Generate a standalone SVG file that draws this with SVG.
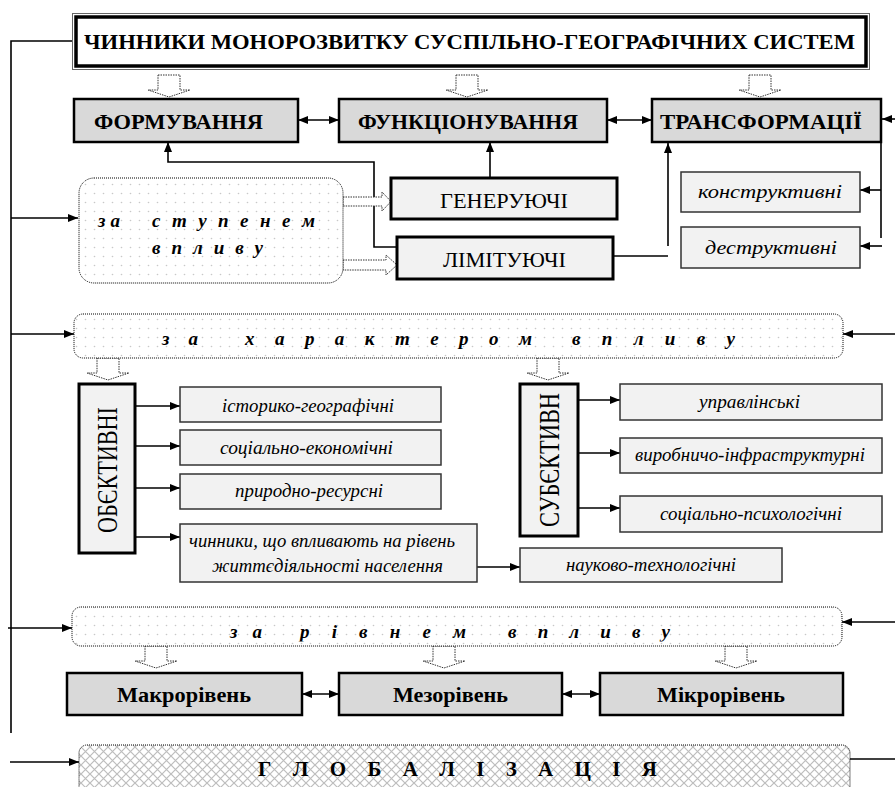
<svg xmlns="http://www.w3.org/2000/svg" width="895" height="787" viewBox="0 0 895 787" font-family="'Liberation Serif', 'Times New Roman', serif">
<defs>
<style>
text{font-family:'Liberation Serif','Times New Roman',serif;fill:#000}
.b{font-weight:bold}
.i{font-style:italic}
.main{fill:#d9d9d9;stroke:#000;stroke-width:2.5}
.sub{fill:#f2f2f2;stroke:#000;stroke-width:3}
.sm{fill:#f2f2f2;stroke:#333;stroke-width:1.5}
.dotbox{fill:url(#dots);stroke:#000;stroke-width:1;stroke-dasharray:1 1}
.hatchbox{fill:url(#hatch);stroke:#000;stroke-width:1;stroke-dasharray:1 1}
.blk{fill:#fff;stroke:#333;stroke-width:1;stroke-dasharray:1.5 1}
.ln{fill:none;stroke:#000;stroke-width:1.6}
.ar{marker-end:url(#ah)}
.da{marker-start:url(#ah);marker-end:url(#ah)}
.sp{font-size:19px;font-weight:bold;font-style:italic}
.it{font-size:18px;font-style:italic}
</style>
<pattern id="dots" width="9" height="9" patternUnits="userSpaceOnUse">
<rect width="9" height="9" fill="#fff"/>
<circle cx="4.5" cy="4.5" r="0.8" fill="#c8c8c8"/>
</pattern>
<pattern id="hatch" width="9" height="9" patternUnits="userSpaceOnUse">
<rect width="9" height="9" fill="#fff"/>
<path d="M0,0 L9,9 M9,0 L0,9" stroke="#bdbdbd" stroke-width="1.2"/>
</pattern>
<marker id="ah" viewBox="0 0 10 10" refX="10" refY="5" markerWidth="10" markerHeight="10" markerUnits="userSpaceOnUse" orient="auto-start-reverse">
<path d="M0,1 L10,5 L0,9 z" fill="#000"/>
</marker>
<path id="dn" d="M-11,0 H11 V15 H21 L0,22 L-21,15 H-11 Z"/>
<clipPath id="clipRiv"><rect x="60" y="600" width="800" height="41.5"/></clipPath>
</defs>

<g id="connectors">
<path class="ln" d="M72,41 H11 V733"/>
<path class="ln ar" d="M11,218 H78"/>
<path class="ln ar" d="M11,334 H74"/>
<path class="ln ar" d="M8,628 H72"/>
<path class="ln ar" d="M10,762 H79"/>
<path class="ln ar" d="M895,334 H843"/>
<path class="ln ar" d="M895,622 H842"/>
<path class="ln" d="M850,759 H895"/>
<path class="ln ar" d="M895,119 H882"/>
<path class="ln da" d="M298,120 H339"/>
<path class="ln da" d="M607,120 H652"/>
<path class="ln ar" d="M397,247 H374 V162 H168 V142"/>
<path class="ln ar" d="M490,178 V142"/>
<path class="ln" d="M613,256 H668"/>
<path class="ln ar" d="M668,246 V143"/>
<path class="ln" d="M881,143 V238"/>
<path class="ln ar" d="M881,190 H860"/>
<path class="ln ar" d="M882,246 H860"/>
<path class="ln ar" d="M135,406 H180"/>
<path class="ln ar" d="M135,446 H180"/>
<path class="ln ar" d="M135,488 H180"/>
<path class="ln ar" d="M135,537 H180"/>
<path class="ln ar" d="M477,567 H520"/>
<path class="ln ar" d="M578,400 H620"/>
<path class="ln ar" d="M578,453 H620"/>
<path class="ln ar" d="M578,508 H620"/>
<path class="ln da" d="M302,694 H339"/>
<path class="ln da" d="M562,694 H600"/>
<use href="#dn" class="blk" transform="translate(169,75)"/>
<use href="#dn" class="blk" transform="translate(467,75)"/>
<use href="#dn" class="blk" transform="translate(760,75)"/>
<use href="#dn" class="blk" transform="translate(108,358)"/>
<use href="#dn" class="blk" transform="translate(548,358)"/>
<use href="#dn" class="blk" transform="translate(156,646)"/>
<use href="#dn" class="blk" transform="translate(444,646)"/>
<use href="#dn" class="blk" transform="translate(736,646)"/>
<path class="blk" d="M343,197 H382 V192 L391,201.5 L382,211 V206 H343 Z"/>
<path class="blk" d="M343,260 H386 V255 L397,265 L386,275 V270 H343 Z"/>
</g>

<g id="title">
<rect x="72.5" y="13.5" width="797" height="56" fill="none" stroke="#666" stroke-width="1"/>
<rect x="76" y="17" width="790" height="49" fill="#fff" stroke="#000" stroke-width="3.5"/>
<text class="b" x="84" y="49" font-size="22" textLength="771" lengthAdjust="spacingAndGlyphs">ЧИННИКИ МОНОРОЗВИТКУ СУСПІЛЬНО-ГЕОГРАФІЧНИХ СИСТЕМ</text>
</g>

<g id="formuvannia">
<rect class="main" x="74" y="99" width="224" height="43"/>
<text class="b" x="94" y="129" font-size="20" textLength="169" lengthAdjust="spacingAndGlyphs">ФОРМУВАННЯ</text>
</g>
<g id="funktsionuvannia">
<rect class="main" x="339" y="99" width="268" height="43"/>
<text class="b" x="358" y="129" font-size="20" textLength="220" lengthAdjust="spacingAndGlyphs">ФУНКЦІОНУВАННЯ</text>
</g>
<g id="transformatsii">
<rect class="main" x="652" y="99" width="229" height="43"/>
<text class="b" x="660" y="129" font-size="20" textLength="202" lengthAdjust="spacingAndGlyphs">ТРАНСФОРМАЦІЇ</text>
</g>

<g id="za-stupenem">
<rect class="dotbox" x="79" y="178" width="264" height="105" rx="15"/>
<text class="sp" x="98" y="227" textLength="22" lengthAdjust="spacing">з а</text>
<text class="sp" x="152" y="227" textLength="163" lengthAdjust="spacing">с т у п е н е м</text>
<text class="sp" x="152" y="254" textLength="111" lengthAdjust="spacing">в п л и в у</text>
</g>

<g id="heneruiuchi">
<rect class="sub" x="391" y="178" width="226" height="41"/>
<text x="440" y="208" font-size="21" textLength="128" lengthAdjust="spacingAndGlyphs">ГЕНЕРУЮЧІ</text>
</g>
<g id="limituiuchi">
<rect class="sub" x="397" y="237" width="216" height="42"/>
<text x="443" y="267" font-size="21" textLength="123" lengthAdjust="spacingAndGlyphs">ЛІМІТУЮЧІ</text>
</g>
<g id="konstruktyvni">
<rect class="sm" x="681" y="172" width="179" height="40"/>
<text class="i" x="698" y="198" font-size="19" textLength="144" lengthAdjust="spacingAndGlyphs">конструктивні</text>
</g>
<g id="destruktyvni">
<rect class="sm" x="681" y="227" width="179" height="41"/>
<text class="i" x="705" y="254" font-size="19" textLength="132" lengthAdjust="spacingAndGlyphs">деструктивні</text>
</g>

<g id="za-kharakterom">
<rect class="dotbox" x="74" y="314" width="769" height="44" rx="9"/>
<text class="sp" x="162" y="345" textLength="36" lengthAdjust="spacing">з а</text>
<text class="sp" x="245" y="345" textLength="287" lengthAdjust="spacing">х а р а к т е р о м</text>
<text class="sp" x="572" y="345" textLength="163" lengthAdjust="spacing">в п л и в у</text>
</g>

<g id="obiektyvni">
<rect class="sub" x="79" y="384" width="56" height="169"/>
<text transform="translate(117,533) rotate(-90)" x="0" y="0" font-size="30" textLength="126" lengthAdjust="spacingAndGlyphs">ОБЄКТИВНІ</text>
</g>
<g id="subiektyvni">
<rect class="sub" x="520" y="384" width="58" height="152"/>
<text transform="translate(559,527) rotate(-90)" x="0" y="0" font-size="30" textLength="134" lengthAdjust="spacingAndGlyphs">СУБЄКТИВН</text>
</g>

<g id="istoryko">
<rect class="sm" x="180" y="387" width="261" height="35"/>
<text class="it" x="222" y="412" textLength="172" lengthAdjust="spacingAndGlyphs">історико-географічні</text>
</g>
<g id="sotsialno-ekon">
<rect class="sm" x="180" y="430" width="261" height="35"/>
<text class="it" x="220" y="454" textLength="173" lengthAdjust="spacingAndGlyphs">соціально-економічні</text>
</g>
<g id="pryrodno">
<rect class="sm" x="180" y="474" width="261" height="35"/>
<text class="it" x="235" y="497" textLength="148" lengthAdjust="spacingAndGlyphs">природно-ресурсні</text>
</g>
<g id="chynnyky">
<rect class="sm" x="180" y="524" width="297" height="58"/>
<text class="it" x="189" y="547" textLength="266" lengthAdjust="spacingAndGlyphs">чинники, що впливають на рівень</text>
<text class="it" x="212" y="572" textLength="231" lengthAdjust="spacingAndGlyphs">життєдіяльності населення</text>
</g>
<g id="naukovo">
<rect class="sm" x="520" y="548" width="262" height="34"/>
<text class="it" x="566" y="571" textLength="170" lengthAdjust="spacingAndGlyphs">науково-технологічні</text>
</g>
<g id="upravlinski">
<rect class="sm" x="620" y="384" width="262" height="36"/>
<text class="it" x="699" y="408" textLength="101" lengthAdjust="spacingAndGlyphs">управлінські</text>
</g>
<g id="vyrobnycho">
<rect class="sm" x="620" y="438" width="262" height="35"/>
<text class="it" x="635" y="461" textLength="230" lengthAdjust="spacingAndGlyphs">виробничо-інфраструктурні</text>
</g>
<g id="sotsialno-psykh">
<rect class="sm" x="620" y="496" width="262" height="36"/>
<text class="it" x="660" y="520" textLength="182" lengthAdjust="spacingAndGlyphs">соціально-психологічні</text>
</g>

<g id="za-rivnem">
<rect class="dotbox" x="72" y="607" width="770" height="39" rx="9"/>
<g clip-path="url(#clipRiv)">
<text class="sp" x="230" y="638" textLength="32" lengthAdjust="spacing">з а</text>
<text class="sp" x="300" y="638" textLength="166" lengthAdjust="spacing">р і в н е м</text>
<text class="sp" x="508" y="638" textLength="162" lengthAdjust="spacing">в п л и в у</text>
</g>
</g>

<g id="makro">
<rect class="main" x="67" y="673" width="235" height="42"/>
<text class="b" x="117" y="702" font-size="20" textLength="134" lengthAdjust="spacingAndGlyphs">Макрорівень</text>
</g>
<g id="mezo">
<rect class="main" x="339" y="673" width="223" height="42"/>
<text class="b" x="393" y="702" font-size="20" textLength="115" lengthAdjust="spacingAndGlyphs">Мезорівень</text>
</g>
<g id="mikro">
<rect class="main" x="600" y="673" width="243" height="42"/>
<text class="b" x="657" y="702" font-size="20" textLength="128" lengthAdjust="spacingAndGlyphs">Мікрорівень</text>
</g>

<g id="hlobalizatsiia">
<rect class="hatchbox" x="79" y="745" width="771" height="60" rx="8"/>
<text class="b" x="258" y="776" font-size="21" textLength="399" lengthAdjust="spacing">Г Л О Б А Л І З А Ц І Я</text>
</g>
</svg>
